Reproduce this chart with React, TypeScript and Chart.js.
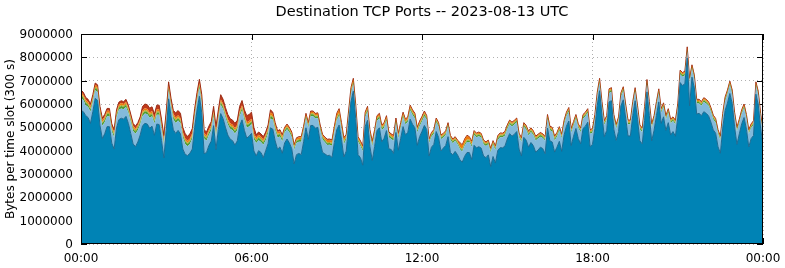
import React, { useEffect, useRef } from 'react';
import { Chart, registerables } from 'chart.js';

Chart.register(...registerables);

// Stacked layers, millions of bytes per 300 s time slot (288 slots + closing point at 24:00)
const base = [
  5.72, 5.67, 5.50, 5.42, 5.17, 5.67, 6.24, 6.16, 5.09, 4.52, 4.72, 5.03,
  5.03, 4.32, 4.07, 4.97, 5.33, 5.39, 5.35, 5.47, 5.17, 4.74, 4.29, 4.17,
  4.37, 4.67, 5.07, 5.17, 5.14, 4.96, 5.05, 4.66, 5.14, 5.12, 4.44, 3.69,
  4.87, 6.22, 5.47, 4.89, 4.74, 4.87, 4.72, 4.07, 3.84, 3.79, 3.89, 4.07,
  5.00, 5.74, 6.33, 5.62, 3.87, 3.92, 4.22, 4.41, 5.07, 4.05, 4.90, 5.59,
  5.37, 5.00, 4.67, 4.49, 4.43, 4.24, 4.42, 5.07, 5.32, 4.87, 4.54, 4.62,
  4.74, 3.99, 3.78, 4.00, 3.92, 3.70, 4.00, 4.30, 4.98, 4.92, 4.42, 4.06,
  4.16, 3.89, 4.33, 4.50, 4.33, 4.08, 3.43, 3.83, 3.88, 3.83, 4.38, 4.98,
  4.48, 5.08, 5.08, 4.96, 5.00, 4.38, 3.93, 3.86, 3.79, 3.80, 3.71, 4.35,
  4.90, 5.10, 4.48, 3.73, 3.98, 5.08, 6.10, 6.55, 5.38, 3.83, 3.70, 3.38,
  5.03, 5.30, 4.18, 3.58, 4.18, 4.86, 4.98, 4.38, 4.53, 4.86, 4.08, 4.05,
  3.88, 4.78, 4.02, 4.53, 5.03, 4.68, 4.78, 5.35, 5.13, 4.98, 4.23, 4.60,
  4.83, 5.08, 4.90, 3.77, 4.15, 4.27, 4.82, 4.57, 3.99, 4.11, 4.22, 4.60,
  3.92, 3.82, 3.97, 3.82, 3.61, 3.51, 3.76, 3.92, 3.92, 3.62, 4.23, 4.12,
  4.17, 4.11, 3.77, 3.70, 3.82, 3.32, 3.75, 3.47, 4.01, 4.13, 4.12, 4.19,
  4.50, 4.73, 4.62, 4.70, 4.82, 4.07, 3.77, 4.57, 4.45, 4.15, 4.35, 4.22,
  3.94, 4.02, 4.15, 4.09, 3.87, 4.97, 4.42, 4.37, 3.94, 4.15, 4.40, 3.97,
  4.67, 5.05, 5.27, 4.22, 4.62, 4.95, 4.52, 4.29, 4.95, 5.05, 5.22, 4.17,
  4.27, 4.95, 5.94, 6.57, 5.50, 4.60, 4.87, 6.09, 6.14, 4.92, 4.44, 4.82,
  5.92, 6.18, 5.40, 4.63, 4.63, 5.50, 6.14, 5.35, 4.42, 4.29, 5.30, 6.52,
  5.50, 4.42, 4.87, 5.50, 6.09, 5.17, 5.45, 4.87, 5.20, 4.67, 4.82, 4.62,
  5.40, 6.92, 6.79, 6.87, 7.97, 5.92, 7.15, 6.69, 5.57, 5.60, 5.50, 5.67,
  5.60, 5.50, 5.22, 4.89, 4.75, 4.17, 3.89, 4.97, 5.72, 6.04, 6.45, 6.02,
  5.02, 4.27, 4.72, 5.15, 5.42, 4.92, 4.16, 4.52, 4.65, 6.42, 5.97, 4.97,
  4.22,
];

const light = [
  0.55, 0.5, 0.45, 0.45, 0.5, 0.4, 0.35, 0.35, 0.5, 0.55, 0.5, 0.45,
  0.45, 0.5, 0.5, 0.45, 0.42, 0.42, 0.42, 0.4, 0.45, 0.5, 0.55, 0.55,
  0.5, 0.45, 0.42, 0.42, 0.42, 0.45, 0.42, 0.5, 0.4, 0.42, 0.5, 0.55,
  0.45, 0.35, 0.4, 0.45, 0.45, 0.42, 0.45, 0.5, 0.45, 0.4, 0.4, 0.45,
  0.42, 0.38, 0.35, 0.4, 0.65, 0.5, 0.45, 0.45, 0.4, 0.55, 0.42, 0.38,
  0.4, 0.42, 0.45, 0.45, 0.45, 0.5, 0.45, 0.4, 0.4, 0.45, 0.45, 0.42,
  0.4, 0.5, 0.55, 0.45, 0.45, 0.55, 0.45, 0.45, 0.4, 0.4, 0.45, 0.5,
  0.45, 0.5, 0.45, 0.42, 0.45, 0.5, 0.6, 0.5, 0.5, 0.55, 0.45, 0.4,
  0.5, 0.4, 0.4, 0.42, 0.4, 0.5, 0.55, 0.5, 0.45, 0.45, 0.5, 0.45,
  0.4, 0.4, 0.45, 0.55, 0.5, 0.4, 0.35, 0.3, 0.4, 0.55, 0.5, 0.6,
  0.4, 0.38, 0.5, 0.6, 0.5, 0.42, 0.4, 0.5, 0.45, 0.42, 0.5, 0.45,
  0.55, 0.4, 0.5, 0.45, 0.4, 0.45, 0.45, 0.38, 0.4, 0.4, 0.55, 0.45,
  0.42, 0.4, 0.42, 0.55, 0.45, 0.45, 0.4, 0.45, 0.5, 0.45, 0.45, 0.42,
  0.55, 0.5, 0.45, 0.45, 0.45, 0.45, 0.45, 0.45, 0.45, 0.55, 0.45, 0.45,
  0.45, 0.45, 0.5, 0.5, 0.45, 0.6, 0.5, 0.55, 0.45, 0.45, 0.45, 0.45,
  0.42, 0.4, 0.42, 0.42, 0.4, 0.5, 0.6, 0.45, 0.45, 0.5, 0.45, 0.45,
  0.5, 0.5, 0.45, 0.45, 0.55, 0.4, 0.45, 0.45, 0.5, 0.45, 0.45, 0.55,
  0.45, 0.42, 0.4, 0.55, 0.45, 0.42, 0.45, 0.5, 0.42, 0.42, 0.4, 0.55,
  0.5, 0.42, 0.38, 0.35, 0.42, 0.5, 0.45, 0.38, 0.38, 0.45, 0.5, 0.45,
  0.38, 0.38, 0.42, 0.5, 0.5, 0.42, 0.38, 0.42, 0.5, 0.5, 0.42, 0.35,
  0.42, 0.55, 0.45, 0.42, 0.38, 0.45, 0.42, 0.45, 0.42, 0.5, 0.45, 0.5,
  0.42, 0.35, 0.38, 0.35, 0.3, 1.0, 0.35, 0.38, 0.45, 0.42, 0.42, 0.42,
  0.42, 0.42, 0.45, 0.45, 0.45, 0.55, 0.55, 0.45, 0.4, 0.38, 0.35, 0.4,
  0.45, 0.55, 0.45, 0.42, 0.4, 0.45, 0.55, 0.45, 0.45, 0.35, 0.4, 0.45,
  0.5,
];

const green = [
  0.10, 0.10, 0.10, 0.10, 0.10, 0.10, 0.10, 0.10, 0.10, 0.10, 0.10, 0.10,
  0.10, 0.10, 0.10, 0.10, 0.10, 0.10, 0.10, 0.10, 0.10, 0.10, 0.10, 0.10,
  0.10, 0.10, 0.10, 0.10, 0.10, 0.10, 0.10, 0.10, 0.10, 0.10, 0.10, 0.10,
  0.10, 0.10, 0.10, 0.10, 0.10, 0.10, 0.10, 0.10, 0.10, 0.10, 0.10, 0.10,
  0.10, 0.10, 0.10, 0.10, 0.10, 0.10, 0.10, 0.10, 0.10, 0.10, 0.10, 0.10,
  0.10, 0.10, 0.10, 0.10, 0.10, 0.10, 0.10, 0.10, 0.10, 0.10, 0.10, 0.10,
  0.10, 0.10, 0.10, 0.10, 0.10, 0.10, 0.10, 0.10, 0.10, 0.10, 0.10, 0.10,
  0.10, 0.10, 0.08, 0.08, 0.08, 0.08, 0.08, 0.08, 0.08, 0.08, 0.08, 0.08,
  0.08, 0.08, 0.08, 0.08, 0.08, 0.08, 0.08, 0.08, 0.08, 0.08, 0.08, 0.08,
  0.08, 0.08, 0.08, 0.08, 0.08, 0.08, 0.08, 0.08, 0.08, 0.08, 0.08, 0.08,
  0.08, 0.08, 0.08, 0.08, 0.08, 0.08, 0.08, 0.08, 0.08, 0.08, 0.08, 0.08,
  0.08, 0.08, 0.08, 0.08, 0.08, 0.08, 0.08, 0.08, 0.08, 0.08, 0.08, 0.08,
  0.08, 0.08, 0.07, 0.07, 0.07, 0.07, 0.07, 0.07, 0.07, 0.07, 0.07, 0.07,
  0.07, 0.07, 0.07, 0.07, 0.07, 0.07, 0.07, 0.07, 0.07, 0.07, 0.07, 0.07,
  0.07, 0.07, 0.07, 0.07, 0.07, 0.07, 0.07, 0.07, 0.07, 0.07, 0.07, 0.07,
  0.07, 0.07, 0.07, 0.07, 0.07, 0.07, 0.07, 0.07, 0.07, 0.07, 0.07, 0.07,
  0.07, 0.07, 0.07, 0.07, 0.07, 0.07, 0.07, 0.07, 0.07, 0.07, 0.07, 0.07,
  0.07, 0.07, 0.07, 0.07, 0.07, 0.07, 0.07, 0.07, 0.07, 0.07, 0.07, 0.07,
  0.07, 0.07, 0.07, 0.07, 0.07, 0.07, 0.07, 0.07, 0.07, 0.07, 0.07, 0.07,
  0.07, 0.07, 0.07, 0.07, 0.07, 0.07, 0.07, 0.07, 0.07, 0.07, 0.07, 0.07,
  0.07, 0.07, 0.07, 0.07, 0.07, 0.07, 0.07, 0.07, 0.07, 0.07, 0.07, 0.07,
  0.07, 0.07, 0.07, 0.07, 0.07, 0.07, 0.07, 0.07, 0.07, 0.07, 0.07, 0.07,
  0.07, 0.07, 0.07, 0.07, 0.07, 0.07, 0.07, 0.07, 0.07, 0.07, 0.07, 0.07,
  0.07, 0.07, 0.07, 0.07, 0.07, 0.07, 0.07, 0.07, 0.07, 0.07, 0.07, 0.07,
  0.07,
];

const olive = [
  0.05, 0.05, 0.05, 0.05, 0.05, 0.05, 0.05, 0.05, 0.05, 0.05, 0.05, 0.05,
  0.05, 0.05, 0.05, 0.05, 0.05, 0.05, 0.05, 0.05, 0.05, 0.05, 0.05, 0.05,
  0.05, 0.05, 0.05, 0.05, 0.05, 0.05, 0.05, 0.05, 0.05, 0.05, 0.05, 0.05,
  0.05, 0.05, 0.05, 0.05, 0.05, 0.05, 0.05, 0.05, 0.05, 0.05, 0.05, 0.05,
  0.05, 0.05, 0.05, 0.05, 0.05, 0.05, 0.05, 0.05, 0.05, 0.05, 0.05, 0.05,
  0.05, 0.05, 0.05, 0.05, 0.05, 0.05, 0.05, 0.05, 0.05, 0.05, 0.05, 0.05,
  0.05, 0.05, 0.05, 0.05, 0.05, 0.05, 0.05, 0.05, 0.05, 0.05, 0.05, 0.05,
  0.05, 0.05, 0.04, 0.04, 0.04, 0.04, 0.04, 0.04, 0.04, 0.04, 0.04, 0.04,
  0.04, 0.04, 0.04, 0.04, 0.04, 0.04, 0.04, 0.04, 0.04, 0.04, 0.04, 0.04,
  0.04, 0.04, 0.04, 0.04, 0.04, 0.04, 0.04, 0.04, 0.04, 0.04, 0.04, 0.04,
  0.04, 0.04, 0.04, 0.04, 0.04, 0.04, 0.04, 0.04, 0.04, 0.04, 0.04, 0.04,
  0.04, 0.04, 0.04, 0.04, 0.04, 0.04, 0.04, 0.04, 0.04, 0.04, 0.04, 0.04,
  0.04, 0.04, 0.04, 0.04, 0.04, 0.04, 0.04, 0.04, 0.04, 0.04, 0.04, 0.04,
  0.04, 0.04, 0.04, 0.04, 0.04, 0.04, 0.04, 0.04, 0.04, 0.04, 0.04, 0.04,
  0.04, 0.04, 0.04, 0.04, 0.04, 0.04, 0.04, 0.04, 0.04, 0.04, 0.04, 0.04,
  0.04, 0.04, 0.04, 0.04, 0.04, 0.04, 0.04, 0.04, 0.04, 0.04, 0.04, 0.04,
  0.04, 0.04, 0.04, 0.04, 0.04, 0.04, 0.04, 0.04, 0.04, 0.04, 0.04, 0.04,
  0.04, 0.04, 0.04, 0.04, 0.04, 0.04, 0.04, 0.04, 0.04, 0.04, 0.04, 0.04,
  0.04, 0.04, 0.04, 0.04, 0.04, 0.04, 0.04, 0.04, 0.04, 0.04, 0.04, 0.04,
  0.04, 0.04, 0.04, 0.04, 0.04, 0.04, 0.04, 0.04, 0.04, 0.04, 0.04, 0.04,
  0.04, 0.04, 0.04, 0.04, 0.04, 0.04, 0.04, 0.04, 0.04, 0.04, 0.04, 0.04,
  0.04, 0.04, 0.04, 0.04, 0.04, 0.04, 0.04, 0.04, 0.04, 0.04, 0.04, 0.04,
  0.04, 0.04, 0.04, 0.04, 0.04, 0.04, 0.04, 0.04, 0.04, 0.04, 0.04, 0.04,
  0.04, 0.04, 0.04, 0.04, 0.04, 0.04, 0.04, 0.04, 0.04, 0.04, 0.04, 0.04,
  0.04,
];

const orange = [
  0.08, 0.08, 0.08, 0.08, 0.08, 0.08, 0.08, 0.08, 0.08, 0.08, 0.08, 0.08,
  0.08, 0.08, 0.08, 0.08, 0.08, 0.08, 0.08, 0.08, 0.08, 0.08, 0.08, 0.08,
  0.08, 0.08, 0.08, 0.08, 0.08, 0.08, 0.08, 0.08, 0.08, 0.08, 0.08, 0.08,
  0.08, 0.08, 0.08, 0.08, 0.08, 0.08, 0.08, 0.08, 0.08, 0.08, 0.08, 0.08,
  0.08, 0.08, 0.08, 0.08, 0.08, 0.08, 0.08, 0.08, 0.08, 0.08, 0.08, 0.08,
  0.08, 0.08, 0.08, 0.08, 0.08, 0.08, 0.08, 0.08, 0.08, 0.08, 0.08, 0.08,
  0.08, 0.08, 0.08, 0.08, 0.08, 0.08, 0.08, 0.08, 0.12, 0.10, 0.10, 0.08,
  0.08, 0.08, 0.07, 0.07, 0.07, 0.07, 0.07, 0.07, 0.07, 0.07, 0.07, 0.07,
  0.07, 0.07, 0.07, 0.07, 0.07, 0.07, 0.07, 0.07, 0.10, 0.10, 0.10, 0.10,
  0.15, 0.15, 0.12, 0.12, 0.07, 0.07, 0.10, 0.10, 0.07, 0.07, 0.07, 0.07,
  0.07, 0.07, 0.07, 0.07, 0.07, 0.07, 0.07, 0.07, 0.07, 0.07, 0.07, 0.07,
  0.07, 0.07, 0.07, 0.07, 0.07, 0.07, 0.07, 0.07, 0.07, 0.07, 0.07, 0.07,
  0.07, 0.07, 0.05, 0.05, 0.05, 0.05, 0.05, 0.05, 0.05, 0.05, 0.05, 0.05,
  0.05, 0.05, 0.05, 0.05, 0.16, 0.16, 0.16, 0.16, 0.10, 0.10, 0.05, 0.05,
  0.05, 0.05, 0.05, 0.05, 0.05, 0.05, 0.05, 0.05, 0.05, 0.05, 0.05, 0.05,
  0.05, 0.05, 0.05, 0.05, 0.05, 0.05, 0.05, 0.05, 0.05, 0.05, 0.05, 0.05,
  0.05, 0.05, 0.05, 0.05, 0.05, 0.05, 0.05, 0.05, 0.05, 0.05, 0.05, 0.05,
  0.05, 0.05, 0.05, 0.05, 0.05, 0.05, 0.05, 0.05, 0.05, 0.05, 0.05, 0.05,
  0.05, 0.05, 0.05, 0.05, 0.05, 0.05, 0.05, 0.05, 0.05, 0.05, 0.05, 0.05,
  0.05, 0.05, 0.05, 0.05, 0.05, 0.05, 0.05, 0.05, 0.05, 0.05, 0.05, 0.05,
  0.05, 0.05, 0.05, 0.05, 0.05, 0.05, 0.05, 0.05, 0.05, 0.05, 0.05, 0.05,
  0.05, 0.05, 0.05, 0.05, 0.05, 0.05, 0.05, 0.05, 0.05, 0.05, 0.05, 0.05,
  0.05, 0.05, 0.05, 0.05, 0.05, 0.05, 0.05, 0.05, 0.05, 0.05, 0.05, 0.05,
  0.05, 0.05, 0.05, 0.05, 0.05, 0.05, 0.05, 0.05, 0.05, 0.05, 0.05, 0.05,
  0.05,
];

const red = [
  0.10, 0.10, 0.10, 0.10, 0.10, 0.10, 0.08, 0.08, 0.08, 0.10, 0.10, 0.10,
  0.10, 0.10, 0.10, 0.10, 0.10, 0.10, 0.10, 0.10, 0.10, 0.10, 0.10, 0.10,
  0.10, 0.10, 0.18, 0.18, 0.18, 0.18, 0.18, 0.18, 0.18, 0.18, 0.18, 0.18,
  0.15, 0.15, 0.15, 0.15, 0.20, 0.20, 0.20, 0.20, 0.20, 0.20, 0.20, 0.20,
  0.15, 0.15, 0.15, 0.15, 0.15, 0.15, 0.15, 0.15, 0.20, 0.20, 0.20, 0.20,
  0.20, 0.20, 0.20, 0.20, 0.20, 0.20, 0.20, 0.20, 0.20, 0.20, 0.28, 0.28,
  0.28, 0.28, 0.12, 0.12, 0.12, 0.12, 0.12, 0.12, 0.10, 0.08, 0.08, 0.06,
  0.06, 0.06, 0.03, 0.03, 0.03, 0.03, 0.03, 0.03, 0.03, 0.03, 0.03, 0.03,
  0.03, 0.03, 0.03, 0.03, 0.03, 0.03, 0.03, 0.03, 0.03, 0.03, 0.03, 0.03,
  0.03, 0.03, 0.03, 0.03, 0.03, 0.03, 0.03, 0.03, 0.03, 0.03, 0.03, 0.03,
  0.03, 0.03, 0.03, 0.03, 0.03, 0.03, 0.03, 0.03, 0.03, 0.03, 0.03, 0.03,
  0.03, 0.03, 0.03, 0.03, 0.03, 0.03, 0.03, 0.03, 0.03, 0.03, 0.03, 0.03,
  0.03, 0.03, 0.02, 0.02, 0.02, 0.02, 0.02, 0.02, 0.02, 0.02, 0.02, 0.02,
  0.02, 0.02, 0.02, 0.02, 0.02, 0.02, 0.02, 0.02, 0.02, 0.02, 0.02, 0.02,
  0.02, 0.02, 0.02, 0.02, 0.02, 0.02, 0.02, 0.02, 0.02, 0.02, 0.02, 0.02,
  0.02, 0.02, 0.02, 0.02, 0.02, 0.02, 0.02, 0.02, 0.02, 0.02, 0.02, 0.02,
  0.02, 0.02, 0.02, 0.02, 0.02, 0.02, 0.02, 0.02, 0.02, 0.02, 0.02, 0.02,
  0.02, 0.02, 0.02, 0.02, 0.02, 0.02, 0.02, 0.02, 0.02, 0.02, 0.02, 0.02,
  0.02, 0.02, 0.02, 0.02, 0.02, 0.02, 0.02, 0.02, 0.02, 0.02, 0.02, 0.02,
  0.02, 0.02, 0.02, 0.02, 0.02, 0.02, 0.02, 0.02, 0.02, 0.02, 0.02, 0.02,
  0.02, 0.02, 0.02, 0.02, 0.02, 0.02, 0.02, 0.02, 0.02, 0.02, 0.02, 0.02,
  0.02, 0.02, 0.02, 0.02, 0.02, 0.02, 0.02, 0.02, 0.02, 0.02, 0.02, 0.02,
  0.02, 0.02, 0.02, 0.02, 0.02, 0.02, 0.02, 0.02, 0.02, 0.02, 0.02, 0.02,
  0.02, 0.02, 0.02, 0.02, 0.02, 0.02, 0.02, 0.02, 0.02, 0.02, 0.02, 0.02,
  0.02,
];

const SLOT_MINUTES = 5;
const xTickLabels = ['00:00', '06:00', '12:00', '18:00', '00:00'];
const TITLE = 'Destination TCP Ports -- 2023-08-13 UTC';
const Y_TITLE = 'Bytes per time slot (300 s)';

const framePlugin = {
  id: 'gnuplotFrame',
  beforeDatasetsDraw(chart: any) {
    const { ctx, chartArea: a, scales } = chart;
    ctx.save();
    ctx.strokeStyle = '#000';
    ctx.lineWidth = 1;
    ctx.beginPath();
    const len = 6;
    scales.y.ticks.forEach((t: any) => {
      const y = Math.round(scales.y.getPixelForValue(t.value)) + 0.5;
      ctx.moveTo(a.left, y); ctx.lineTo(a.left + len, y);
      ctx.moveTo(a.right, y); ctx.lineTo(a.right - len, y);
    });
    scales.x.ticks.forEach((t: any) => {
      const x = Math.round(scales.x.getPixelForValue(t.value)) + 0.5;
      ctx.moveTo(x, a.top); ctx.lineTo(x, a.top + len);
      ctx.moveTo(x, a.bottom); ctx.lineTo(x, a.bottom - len);
    });
    ctx.stroke();
    ctx.restore();
  },
  afterDatasetsDraw(chart: any) {
    const { ctx, chartArea: a } = chart;
    ctx.save();
    ctx.strokeStyle = '#000';
    ctx.lineWidth = 1;
    const l = Math.round(a.left) + 0.5;
    const t = Math.round(a.top) + 0.5;
    const r = Math.round(a.right) - 0.5;
    const b = Math.round(a.bottom) - 0.5;
    ctx.strokeRect(l, t, r - l, b - t);
    ctx.restore();
  },
};

export default function App() {
  const ref = useRef<HTMLCanvasElement>(null);

  useEffect(() => {
    const canvas = ref.current;
    if (!canvas) return;
    Chart.defaults.font.family = "'DejaVu Sans', sans-serif";
    Chart.defaults.color = '#000';

    const times = base.map((_, i) => i * SLOT_MINUTES);
    const mk = (label: string, arr: number[], color: string, extra: any = {}) => ({
      label,
      data: arr.map((v, i) => ({ x: times[i], y: v * 1e6 })),
      backgroundColor: color,
      borderColor: 'rgba(0,0,0,0)',
      borderWidth: 1,
      pointRadius: 0,
      tension: 0,
      fill: '-1',
      ...extra,
    });

    const chart = new Chart(canvas, {
      type: 'line',
      data: {
        datasets: [
          mk('base', base, '#0083b5', { fill: 'origin', borderColor: '#1d6a92' }),
          mk('light', light, '#84badb'),
          mk('green', green, '#4f9b2c'),
          mk('olive', olive, '#b3a51e'),
          mk('orange', orange, '#ee7b0c'),
          mk('red', red, '#c0391b', { borderColor: '#9c2c14' }),
        ],
      },
      options: {
        animation: false,
        responsive: false,
        devicePixelRatio: 1,
        layout: { padding: { left: 0, right: 22, top: 0, bottom: 0 } },
        plugins: {
          legend: { display: false },
          tooltip: { enabled: false },
          title: {
            display: true,
            text: TITLE,
            fullSize: false,
            color: '#000',
            font: { size: 14.5, weight: 'normal' },
            padding: { top: 4, bottom: 12.6 },
          },
        },
        scales: {
          x: {
            type: 'linear',
            min: 0,
            max: 1440,
            afterFit: (s: any) => { s.height = 24; s.paddingRight = 0; s.paddingLeft = 0; },
            ticks: {
              stepSize: 360,
              padding: 8,
              maxRotation: 0,
              autoSkip: false,
              font: { size: 12 },
              color: '#000',
              callback: (v: any) => xTickLabels[Math.round(Number(v) / 360)] ?? '',
            },
            grid: { color: '#b0b0b0', lineWidth: 1, drawTicks: false },
            border: { display: false, dash: [1, 3] },
          },
          y: {
            stacked: true,
            min: 0,
            max: 9000000,
            afterFit: (s: any) => { s.width = 81; s.paddingTop = 0; s.paddingBottom = 0; },
            ticks: {
              stepSize: 1000000,
              padding: 8,
              labelOffset: 1,
              font: { size: 12 },
              color: '#000',
              callback: (v: any) => String(Math.round(Number(v))),
            },
            grid: { color: '#b0b0b0', lineWidth: 1, drawTicks: false },
            border: { display: false, dash: [1, 3] },
            title: {
              display: true,
              text: Y_TITLE,
              color: '#000',
              font: { size: 12 },
              padding: { top: 4, bottom: 0 },
            },
          },
        },
      },
      plugins: [framePlugin],
    } as any);

    return () => chart.destroy();
  }, []);

  return (
    <div style={{ position: 'absolute', left: 0, top: 0, width: 785, height: 268, background: '#fff' }}>
      <canvas ref={ref} width={785} height={268} style={{ display: 'block', width: 785, height: 268 }} />
    </div>
  );
}
